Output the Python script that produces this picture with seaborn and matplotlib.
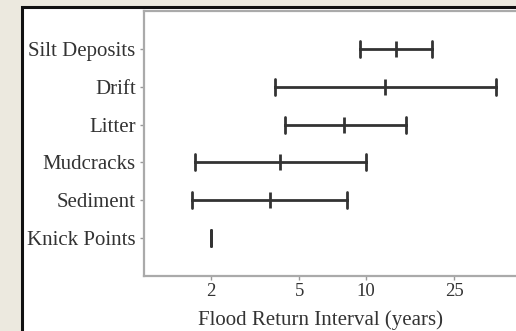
import matplotlib
matplotlib.use("Agg")
import matplotlib.pyplot as plt
from matplotlib.patches import Rectangle
from matplotlib.ticker import NullLocator
import seaborn as sns
import pandas as pd

# Flood return interval ranges (years): low, typical, high
indicators = ["Silt Deposits", "Drift", "Litter", "Mudcracks", "Sediment", "Knick Points"]
low = [9.4, 3.9, 4.3, 1.7, 1.65, 2.0]
mid = [13.6, 12.2, 8.0, 4.1, 3.7, 2.0]
high = [19.8, 38.5, 15.1, 10.0, 8.2, 2.0]
x_ticks = [2, 5, 10, 25]

rows = []
for name, lo, md, hi in zip(indicators, low, mid, high):
    for v in (lo, md, hi):
        rows.append({"indicator": name, "years": v})
df = pd.DataFrame(rows)

sns.set_theme(style="white")
plt.rcParams["font.family"] = ["Liberation Serif", "DejaVu Serif"]

fig = plt.figure(figsize=(5.16, 3.31), dpi=100)
fig.patch.set_facecolor("#ECE9DF")

# white panel with dark frame on top and left
W, H = 516, 331
panel = Rectangle((22 / W, -0.05), 1.1, (331 - 7) / H + 0.05, transform=fig.transFigure,
                  facecolor="white", edgecolor="#111111", linewidth=2.2, zorder=-10)
fig.patches.append(panel)

ax = fig.add_axes([144 / W, (H - 276) / H, (521 - 144) / W, (276 - 11) / H])
ax.set_zorder(1)
ax.set_facecolor("none")
ax.set_xscale("log")

sns.pointplot(data=df, x="years", y="indicator", order=indicators, orient="h",
              estimator="median", errorbar=("pi", 100), capsize=0.42,
              markers="|", markersize=12, markeredgewidth=2.0, linestyles="none",
              color="#333333", err_kws={"linewidth": 2.0}, ax=ax)

ax.set_xlim(1, 50)
ax.set_ylim(6, -1)
ax.set_xticks(x_ticks)
ax.set_xticklabels([str(t) for t in x_ticks])
ax.xaxis.set_minor_locator(NullLocator())
ax.set_xlabel("Flood Return Interval (years)", fontsize=15, color="#333333")
ax.xaxis.set_label_coords((321 - 144) / (521 - 144), -0.128)
ax.xaxis.label.set_verticalalignment("top")
ax.set_ylabel("")

ax.tick_params(axis="both", which="major", length=3, width=1, color="#999999",
               labelcolor="#333333", labelsize=15, pad=3, direction="out",
               bottom=True, left=True)
ax.tick_params(axis="x", labelsize=13.5, pad=2)
for side in ("left", "bottom", "top"):
    ax.spines[side].set_color("#AAAAAA")
    ax.spines[side].set_linewidth(1.6)
ax.spines["right"].set_visible(False)

fig.savefig("out.png", dpi=100, facecolor=fig.get_facecolor())
